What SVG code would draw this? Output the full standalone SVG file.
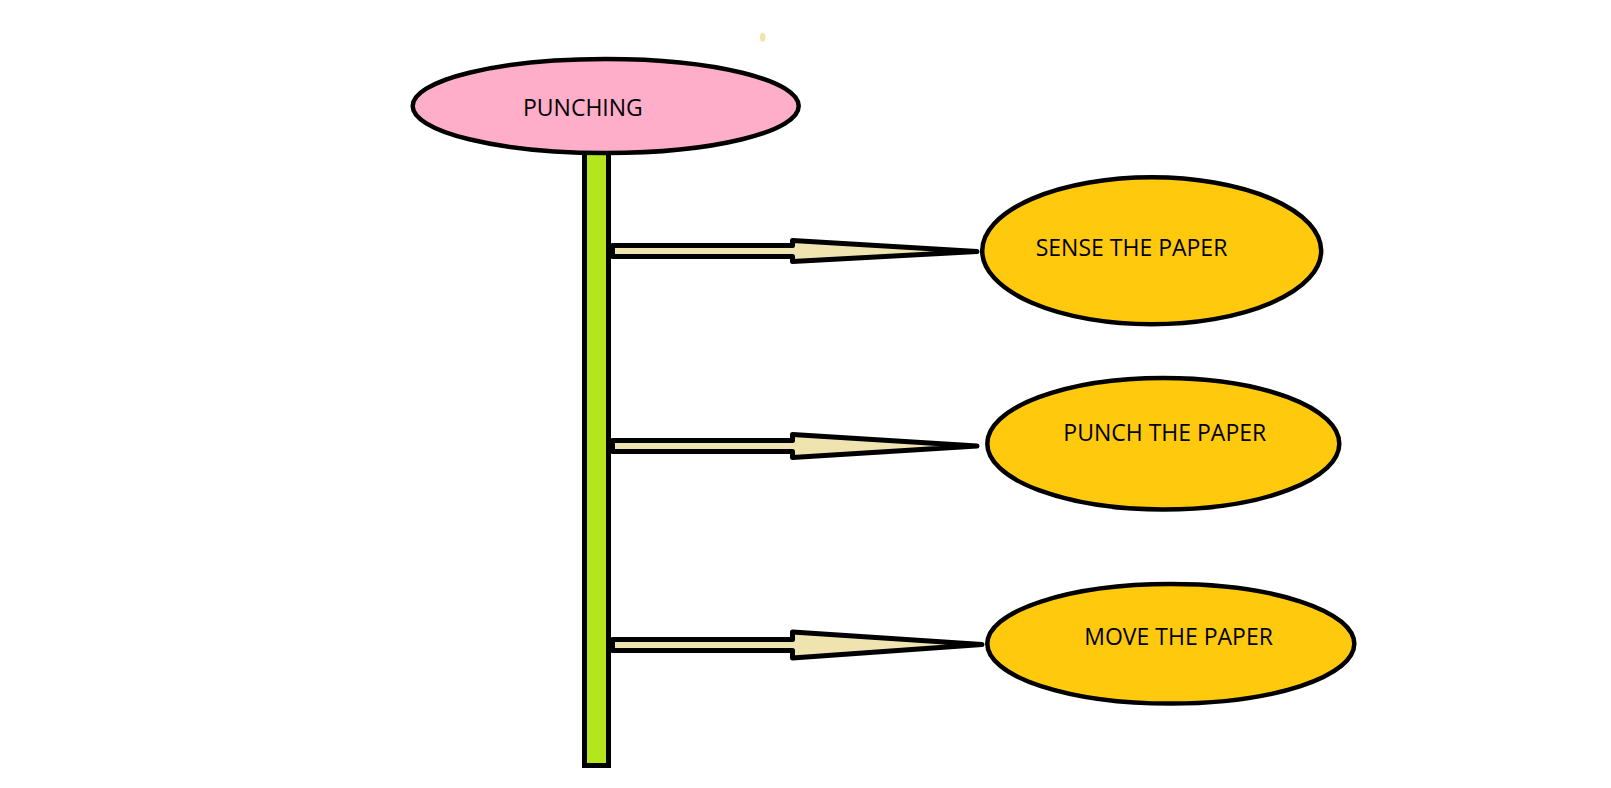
<svg xmlns="http://www.w3.org/2000/svg" width="1611" height="788" viewBox="0 0 1611 788">
<style>
.node{stroke:#000;stroke-width:4.5}
.lbl{font-family:"Open Sans","Liberation Sans",sans-serif;font-size:23px;fill:#000}
.arrow{fill:#efe4b0;stroke:#000;stroke-width:5;stroke-linejoin:round}
</style>
<rect width="1611" height="788" fill="#fff"/>
<ellipse cx="762.7" cy="37.3" rx="2.8" ry="4.5" fill="#efe4b0"/>
<g id="bar">
<rect x="584.5" y="150" width="24" height="615.5" fill="#b5e61d" stroke="#000" stroke-width="5"/>
</g>
<g id="punching">
<ellipse class="node" cx="605.7" cy="106" rx="193" ry="47" fill="#ffaec9"/>
<text class="lbl" x="523" y="115.7">PUNCHING</text>
</g>
<g id="connectors">
<polygon class="arrow" points="612.5,245.5 792.5,245.5 792.5,240.5 977,251.5 792.5,261.5 792.5,256.5 612.5,256.5"/>
<polygon class="arrow" points="612.5,440.5 792.5,440.5 792.5,434.5 977,446 792.5,457.5 792.5,451.5 612.5,451.5"/>
<polygon class="arrow" points="612.5,639.5 792.5,639.5 792.5,632 982,644.5 792.5,658 792.5,650.5 612.5,650.5"/>
</g>
<g id="sense">
<ellipse class="node" cx="1151.7" cy="250.8" rx="169.5" ry="73.5" fill="#ffc90e"/>
<text class="lbl" x="1035.7" y="255.7">SENSE THE PAPER</text>
</g>
<g id="punch">
<ellipse class="node" cx="1163.3" cy="443.7" rx="176" ry="65.8" fill="#ffc90e"/>
<text class="lbl" x="1063.3" y="441">PUNCH THE PAPER</text>
</g>
<g id="move">
<ellipse class="node" cx="1170.8" cy="643.8" rx="183.5" ry="59.8" fill="#ffc90e"/>
<text class="lbl" x="1084.3" y="645">MOVE THE PAPER</text>
</g>
</svg>
